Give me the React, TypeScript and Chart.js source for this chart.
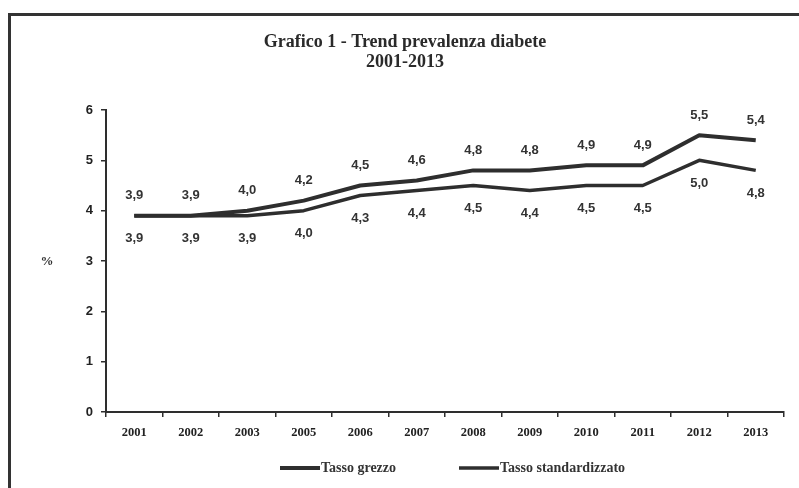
import React, { useEffect, useRef } from 'react';
import { Chart, registerables } from 'chart.js';

Chart.register(...registerables);

const categories = ['2001', '2002', '2003', '2005', '2006', '2007', '2008', '2009', '2010', '2011', '2012', '2013'];
const tassoGrezzo = [3.9, 3.9, 4.0, 4.2, 4.5, 4.6, 4.8, 4.8, 4.9, 4.9, 5.5, 5.4];
const tassoStandardizzato = [3.9, 3.9, 3.9, 4.0, 4.3, 4.4, 4.5, 4.4, 4.5, 4.5, 5.0, 4.8];
const seriesNames = ['Tasso grezzo', 'Tasso standardizzato'];
const titleLines = ['Grafico 1 - Trend prevalenza diabete', '2001-2013'];
const yAxisLabel = '%';
const yTickMin = 0;
const yTickMax = 6;
const yTickStep = 1;

const INK = '#2e2e2e';
const SERIF = '"Liberation Serif", "DejaVu Serif", serif';
const SANS = '"Liberation Sans", "DejaVu Sans", sans-serif';

const valueLabels = {
  id: 'valueLabels',
  afterDatasetsDraw(chart: any) {
    const ctx = chart.ctx;
    ctx.save();
    ctx.font = `bold 13px ${SANS}`;
    ctx.fillStyle = '#333';
    ctx.textAlign = 'center';
    ctx.textBaseline = 'middle';
    chart.data.datasets.forEach((ds: any, i: number) => {
      const meta = chart.getDatasetMeta(i);
      meta.data.forEach((pt: any, j: number) => {
        const v = ds.data[j] as number;
        const off = i === 0 ? -20 : 23;
        ctx.fillText(v.toFixed(1).replace('.', ','), pt.x, pt.y + off);
      });
    });
    ctx.restore();
  },
};

const sideLabel = {
  id: 'sideLabel',
  afterDraw(chart: any) {
    const ctx = chart.ctx;
    const y = chart.scales.y;
    ctx.save();
    ctx.font = `bold 13px ${SERIF}`;
    ctx.fillStyle = '#333';
    ctx.textAlign = 'center';
    ctx.textBaseline = 'middle';
    ctx.fillText(yAxisLabel, 47, (y.top + y.bottom) / 2 + 1);
    ctx.restore();
  },
};

const legendPos = [
  { x: 280, w: 40 },
  { x: 459, w: 40 },
];

const lineLegend = {
  id: 'lineLegend',
  afterDraw(chart: any) {
    const ctx = chart.ctx;
    const yy = 468;
    ctx.save();
    ctx.font = `bold 14px ${SERIF}`;
    ctx.fillStyle = '#333';
    ctx.textAlign = 'left';
    ctx.textBaseline = 'middle';
    chart.data.datasets.forEach((ds: any, i: number) => {
      const p = legendPos[i];
      ctx.beginPath();
      ctx.strokeStyle = ds.borderColor;
      ctx.lineWidth = ds.borderWidth;
      ctx.moveTo(p.x, yy);
      ctx.lineTo(p.x + p.w, yy);
      ctx.stroke();
      ctx.fillText(ds.label, p.x + p.w + 1, yy);
    });
    ctx.restore();
  },
};

export default function App() {
  const ref = useRef<HTMLCanvasElement | null>(null);

  useEffect(() => {
    if (!ref.current) return;
    const chart = new Chart(ref.current, {
      type: 'line',
      data: {
        labels: categories,
        datasets: [
          {
            label: seriesNames[0],
            data: tassoGrezzo,
            borderColor: INK,
            borderWidth: 4,
            pointRadius: 0,
            tension: 0,
            fill: false,
            borderJoinStyle: 'round',
          },
          {
            label: seriesNames[1],
            data: tassoStandardizzato,
            borderColor: INK,
            borderWidth: 3.5,
            pointRadius: 0,
            tension: 0,
            fill: false,
            borderJoinStyle: 'round',
          },
        ],
      },
      options: {
        responsive: false,
        animation: false,
        layout: { padding: { left: 26, right: 15, top: 0, bottom: 46 } },
        plugins: {
          legend: { display: false },
          tooltip: { enabled: false },
          title: {
            display: true,
            text: titleLines,
            color: '#2a2a2a',
            font: { family: SERIF, size: 18, weight: 'bold', lineHeight: 1.111 },
            padding: { top: 32, bottom: 38 },
          },
        },
        scales: {
          x: {
            offset: true,
            grid: {
              offset: true,
              drawOnChartArea: false,
              tickLength: 5,
              color: INK,
              lineWidth: 1.5,
            },
            border: { color: INK, width: 2 },
            ticks: {
              color: '#222',
              font: { family: SERIF, size: 12.5, weight: 'bold' },
              padding: 8,
              maxRotation: 0,
              autoSkip: false,
            },
            afterFit: (s: any) => {
              s.height = 30;
            },
          },
          y: {
            min: yTickMin,
            max: yTickMax,
            grid: {
              drawOnChartArea: false,
              tickLength: 5,
              color: INK,
              lineWidth: 1.5,
            },
            border: { color: INK, width: 2 },
            ticks: {
              stepSize: yTickStep,
              color: '#222',
              font: { family: SANS, size: 13, weight: 'bold' },
              padding: 8,
            },
            afterFit: (s: any) => {
              s.width = 80;
            },
          },
        },
      },
      plugins: [valueLabels, sideLabel, lineLegend],
    });
    return () => chart.destroy();
  }, []);

  return (
    <>
      <div
        style={{
          position: 'fixed',
          left: 8,
          top: 13,
          width: 791,
          height: 475,
          borderTop: '3px solid #333',
          borderLeft: '3px solid #333',
          boxSizing: 'border-box',
        }}
      />
      <canvas
        ref={ref}
        width={799}
        height={488}
        style={{ position: 'fixed', left: 0, top: 0, width: 799, height: 488 }}
      />
    </>
  );
}
